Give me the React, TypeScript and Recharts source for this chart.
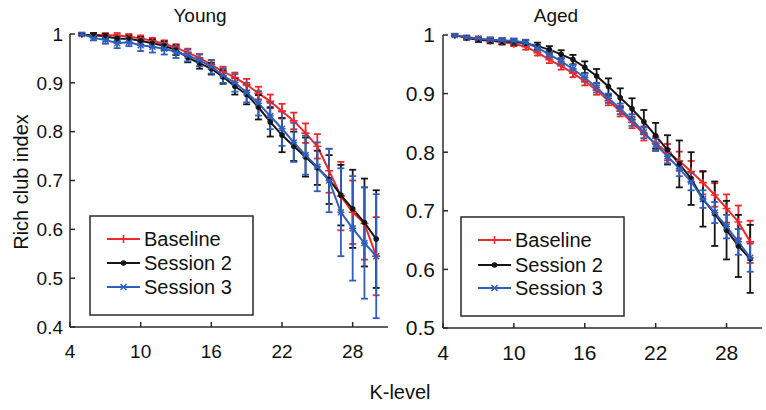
import React from "react";
import { LineChart, Line, XAxis, YAxis, ErrorBar } from "recharts";

const kLevels = [5, 6, 7, 8, 9, 10, 11, 12, 13, 14, 15, 16, 17, 18, 19, 20, 21, 22, 23, 24, 25, 26, 27, 28, 29, 30];
const xTicks = [4, 10, 16, 22, 28];
const youngYTicks = [0.4, 0.5, 0.6, 0.7, 0.8, 0.9, 1];
const agedYTicks = [0.5, 0.6, 0.7, 0.8, 0.9, 1];
const seriesNames = ["Baseline", "Session 2", "Session 3"];

const youngBaseline = [1.0, 0.999, 0.998, 0.997, 0.995, 0.991, 0.986, 0.98, 0.972, 0.962, 0.951, 0.937, 0.923, 0.911, 0.896, 0.879, 0.862, 0.842, 0.822, 0.797, 0.77, 0.72, 0.668, 0.635, 0.612, 0.545];
const youngSession2 = [1.0, 0.998, 0.995, 0.991, 0.99, 0.986, 0.981, 0.976, 0.967, 0.952, 0.94, 0.929, 0.912, 0.893, 0.876, 0.85, 0.82, 0.793, 0.77, 0.748, 0.726, 0.702, 0.67, 0.642, 0.614, 0.58];
const youngSession3 = [1.0, 0.992, 0.988, 0.981, 0.983, 0.977, 0.974, 0.97, 0.963, 0.956, 0.946, 0.933, 0.915, 0.9, 0.88, 0.858, 0.832, 0.806, 0.778, 0.752, 0.728, 0.7, 0.635, 0.602, 0.572, 0.545];
const youngBaselineErr = [0.002, 0.003, 0.004, 0.005, 0.005, 0.006, 0.006, 0.007, 0.007, 0.008, 0.008, 0.009, 0.01, 0.01, 0.012, 0.013, 0.014, 0.015, 0.017, 0.02, 0.025, 0.045, 0.07, 0.065, 0.074, 0.08];
const youngSession2Err = [0.002, 0.004, 0.005, 0.006, 0.007, 0.008, 0.008, 0.009, 0.01, 0.01, 0.011, 0.012, 0.014, 0.017, 0.02, 0.025, 0.03, 0.035, 0.03, 0.04, 0.035, 0.05, 0.062, 0.08, 0.09, 0.1];
const youngSession3Err = [0.003, 0.005, 0.008, 0.01, 0.008, 0.012, 0.012, 0.012, 0.012, 0.012, 0.012, 0.014, 0.015, 0.018, 0.02, 0.025, 0.027, 0.035, 0.04, 0.04, 0.05, 0.065, 0.09, 0.107, 0.114, 0.127];

const agedBaseline = [1.0, 0.996, 0.993, 0.99, 0.988, 0.985, 0.98, 0.97, 0.958, 0.947, 0.935, 0.921, 0.906, 0.888, 0.87, 0.851, 0.831, 0.815, 0.8, 0.785, 0.767, 0.748, 0.727, 0.704, 0.681, 0.647];
const agedSession2 = [1.0, 0.995, 0.992, 0.99, 0.989, 0.988, 0.986, 0.981, 0.975, 0.967, 0.958, 0.945, 0.93, 0.912, 0.893, 0.874, 0.852, 0.828, 0.804, 0.78, 0.755, 0.72, 0.695, 0.667, 0.64, 0.618];
const agedSession3 = [1.0, 0.996, 0.994, 0.992, 0.991, 0.99, 0.987, 0.978, 0.967, 0.955, 0.942, 0.927, 0.91, 0.892, 0.874, 0.855, 0.834, 0.813, 0.793, 0.772, 0.75, 0.72, 0.697, 0.673, 0.647, 0.62];
const agedBaselineErr = [0.002, 0.003, 0.003, 0.004, 0.004, 0.004, 0.005, 0.005, 0.006, 0.006, 0.007, 0.007, 0.008, 0.008, 0.009, 0.01, 0.011, 0.012, 0.014, 0.016, 0.018, 0.02, 0.02, 0.024, 0.028, 0.036];
const agedSession2Err = [0.002, 0.003, 0.004, 0.004, 0.005, 0.005, 0.005, 0.006, 0.006, 0.007, 0.008, 0.01, 0.012, 0.014, 0.016, 0.018, 0.02, 0.022, 0.025, 0.04, 0.045, 0.047, 0.055, 0.05, 0.053, 0.058];
const agedSession3Err = [0.002, 0.003, 0.003, 0.004, 0.004, 0.004, 0.005, 0.005, 0.006, 0.006, 0.007, 0.007, 0.008, 0.008, 0.009, 0.01, 0.01, 0.011, 0.012, 0.013, 0.015, 0.015, 0.018, 0.02, 0.022, 0.024];

const RED = "#ec2a2c";
const BLACK = "#151515";
const BLUE = "#2f5fbb";
const FRAME = "#2a2a2a";
const FONT = "'Liberation Sans', Arial, sans-serif";

type Shape = "plus" | "dot" | "cross";

function marker(shape: Shape, color: string, cx: number, cy: number, key?: React.Key) {
  if (shape === "dot") return <circle key={key} cx={cx} cy={cy} r={2.8} fill={color} />;
  if (shape === "plus")
    return <path key={key} d={`M${cx - 4},${cy}H${cx + 4}M${cx},${cy - 4}V${cy + 4}`} stroke={color} strokeWidth={1.6} fill="none" />;
  return (
    <path
      key={key}
      d={`M${cx - 3},${cy - 3}L${cx + 3},${cy + 3}M${cx - 3},${cy + 3}L${cx + 3},${cy - 3}M${cx - 3.5},${cy}H${cx + 3.5}`}
      stroke={color}
      strokeWidth={1.5}
      fill="none"
    />
  );
}

const shapes: Shape[] = ["plus", "dot", "cross"];
const colors = [RED, BLACK, BLUE];

interface PanelProps {
  left: number;
  width: number;
  axisW: number;
  right: number;
  top: number;
  bottomH: number;
  domain: [number, number];
  yTicks: number[];
  fontSize: number;
  xMargin: number;
  yMargin: number;
  vals: number[][];
  errs: number[][];
}

const fmt = (v: number) => (v === 1 ? "1" : v.toFixed(1));

function Panel(p: PanelProps) {
  const data = kLevels.map((k, i) => ({
    k,
    v0: p.vals[0][i], v1: p.vals[1][i], v2: p.vals[2][i],
    e0: p.errs[0][i], e1: p.errs[1][i], e2: p.errs[2][i],
  }));
  const line = { stroke: FRAME, strokeWidth: 1.5 };
  return (
    <div style={{ position: "absolute", left: p.left, top: 0 }}>
      <LineChart width={p.width} height={380} data={data} margin={{ top: p.top, right: p.right, left: 0, bottom: 20 }}>
        <XAxis
          dataKey="k" type="number" domain={[4, 31]} ticks={xTicks} height={p.bottomH}
          tickSize={-5} tickMargin={p.xMargin} axisLine={line} tickLine={line}
          tick={{ fill: "#111", fontSize: p.fontSize, fontFamily: FONT }} allowDataOverflow
        />
        <XAxis
          xAxisId="top" orientation="top" dataKey="k" type="number" domain={[4, 31]} ticks={xTicks}
          height={0} tickSize={-5} tick={false} axisLine={line} tickLine={line}
        />
        <YAxis
          type="number" domain={p.domain} ticks={p.yTicks} width={p.axisW} tickSize={-5} tickMargin={p.yMargin}
          tickFormatter={fmt} axisLine={line} tickLine={line}
          tick={{ fill: "#111", fontSize: p.fontSize, fontFamily: FONT }} allowDataOverflow
        />
        <YAxis
          yAxisId="right" orientation="right" type="number" domain={p.domain} ticks={p.yTicks} width={0}
          tickSize={-5} tick={false} axisLine={line} tickLine={line}
        />
        {[0, 1, 2].map((j) => (
          <Line
            key={j}
            dataKey={`v${j}`}
            stroke={colors[j]}
            strokeWidth={2}
            isAnimationActive={false}
            dot={(d: any) => marker(shapes[j], colors[j], d.cx, d.cy, d.index)}
            activeDot={false}
          >
            <ErrorBar dataKey={`e${j}`} width={3.5} stroke={colors[j]} strokeWidth={1.8} direction="y" isAnimationActive={false} />
          </Line>
        ))}
      </LineChart>
    </div>
  );
}

function LegendBox({ x, y, rows }: { x: number; y: number; rows: number[] }) {
  return (
    <svg style={{ position: "absolute", left: x, top: y }} width={166} height={102}>
      <rect x={1} y={1} width={163} height={99} fill="#fff" stroke={FRAME} strokeWidth={1.5} />
      {seriesNames.map((name, j) => (
        <g key={name}>
          <line x1={18} x2={51} y1={rows[j]} y2={rows[j]} stroke={colors[j]} strokeWidth={2} />
          {marker(shapes[j], colors[j], 34.5, rows[j])}
          <text x={55} y={rows[j]} dy="0.36em" fontSize={20} fontFamily={FONT} fill="#111">{name}</text>
        </g>
      ))}
    </svg>
  );
}

export default function App() {
  return (
    <div style={{ position: "absolute", left: 0, top: 0, width: 766, height: 410, background: "#fff", fontFamily: FONT, overflow: "hidden" }}>
      <Panel
        left={0} width={395} axisW={70} right={7} top={34} bottomH={33} domain={[0.4, 1]} yTicks={youngYTicks}
        fontSize={19} xMargin={23} yMargin={12}
        vals={[youngBaseline, youngSession2, youngSession3]}
        errs={[youngBaselineErr, youngSession2Err, youngSession3Err]}
      />
      <Panel
        left={400} width={366} axisW={43} right={4} top={35} bottomH={32} domain={[0.5, 1]} yTicks={agedYTicks}
        fontSize={21} xMargin={22} yMargin={13}
        vals={[agedBaseline, agedSession2, agedSession3]}
        errs={[agedBaselineErr, agedSession2Err, agedSession3Err]}
      />
      <LegendBox x={89} y={215} rows={[24, 48, 72]} />
      <LegendBox x={460} y={216} rows={[24, 49, 72]} />
      <svg style={{ position: "absolute", left: 0, top: 0 }} width={766} height={410}>
        <text x={200} y={15} dy="0.36em" textAnchor="middle" fontSize={19} fontFamily={FONT} fill="#111">Young</text>
        <text x={556} y={15} dy="0.36em" textAnchor="middle" fontSize={19} fontFamily={FONT} fill="#111">Aged</text>
        <text x={400} y={392} dy="0.36em" textAnchor="middle" fontSize={20} fontFamily={FONT} fill="#111">K-level</text>
        <text x={21} y={182} dy="0.36em" textAnchor="middle" fontSize={20} fontFamily={FONT} fill="#111" transform="rotate(-90 21 182)">
          Rich club index
        </text>
      </svg>
    </div>
  );
}
